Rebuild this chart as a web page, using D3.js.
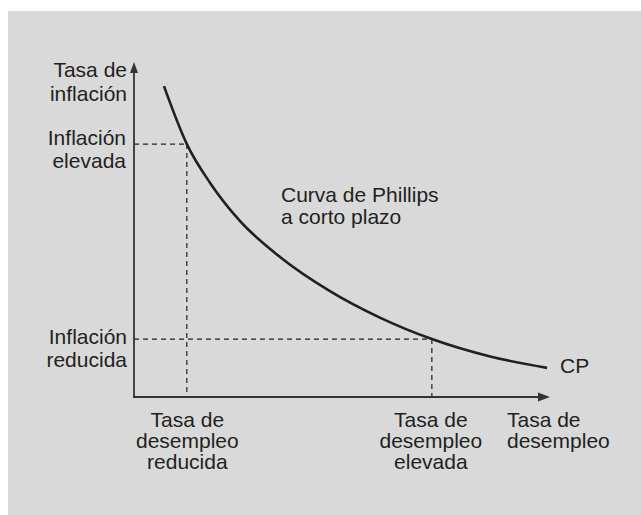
<!DOCTYPE html>
<html>
<head>
<meta charset="utf-8">
<script src="https://cdn.jsdelivr.net/npm/d3@7"></script>
<style>
  html, body { margin: 0; padding: 0; background: #ffffff; }
  svg { display: block; }
  text { font-family: "Liberation Sans", Arial, Helvetica, sans-serif; font-size: 21px; fill: #231f20; }
</style>
</head>
<body>
<svg id="chart" width="641" height="515"></svg>
<script>
// Short-run Phillips curve (arbitrary units 0..10)
const curveX = [0.72, 1.27, 1.83, 2.55, 3.51, 4.71, 5.91, 7.16, 8.56, 9.93];
const curveY = [9.28, 7.55, 6.39, 5.25, 4.18, 3.16, 2.37, 1.73, 1.21, 0.87];

// Marked combinations
const unemploymentMarks = [1.27, 7.16];   // low, high unemployment
const inflationMarks = [7.55, 1.73];      // high, low inflation

// Texts
const yTitle = ["Tasa de", "inflación"];
const xTitle = ["Tasa de", "desempleo"];
const inflationLabels = [["Inflación", "elevada"], ["Inflación", "reducida"]];
const unemploymentLabels = [["Tasa de", "desempleo", "reducida"], ["Tasa de", "desempleo", "elevada"]];
const curveLabel = ["Curva de Phillips", "a corto plazo"];
const curveName = "CP";

const svg = d3.select("#chart");
const W = 641, H = 515;

// panel
svg.append("rect").attr("x", 8).attr("y", 11).attr("width", W - 8).attr("height", H - 11)
  .attr("fill", "#d9d9d9");

const x = d3.scaleLinear().domain([0, 10]).range([134, 550]);
const y = d3.scaleLinear().domain([0, 10]).range([397, 62]);

const ink = "#231f20";

// dashed guide lines
const dash = "5,4";
inflationMarks.forEach((v, i) => {
  svg.append("line")
    .attr("x1", x(0)).attr("x2", x(unemploymentMarks[i]))
    .attr("y1", y(v)).attr("y2", y(v))
    .attr("stroke", ink).attr("stroke-width", 1.2).attr("stroke-dasharray", dash);
  svg.append("line")
    .attr("x1", x(unemploymentMarks[i])).attr("x2", x(unemploymentMarks[i]))
    .attr("y1", y(v)).attr("y2", y(0))
    .attr("stroke", ink).attr("stroke-width", 1.2).attr("stroke-dasharray", dash);
});

// axes with arrows
const axisColor = "#333333";
svg.append("line").attr("x1", x(0)).attr("x2", x(0)).attr("y1", y(0) + 1).attr("y2", y(10) + 8)
  .attr("stroke", axisColor).attr("stroke-width", 1.8);
svg.append("line").attr("x1", x(0) - 1).attr("x2", x(10) - 8).attr("y1", y(0)).attr("y2", y(0))
  .attr("stroke", axisColor).attr("stroke-width", 1.8);
svg.append("path")
  .attr("d", `M${x(0)},${y(10)} L${x(0) + 4},${y(10) + 11} L${x(0) - 4},${y(10) + 11} Z`)
  .attr("fill", axisColor);
svg.append("path")
  .attr("d", `M${x(10)},${y(0)} L${x(10) - 12},${y(0) + 4.5} L${x(10) - 12},${y(0) - 4.5} Z`)
  .attr("fill", axisColor);

// curve
const pts = curveX.map((v, i) => [v, curveY[i]]);
const line = d3.line().x(d => x(d[0])).y(d => y(d[1])).curve(d3.curveMonotoneX);
svg.append("path").datum(pts).attr("d", line)
  .attr("fill", "none").attr("stroke", ink).attr("stroke-width", 2.6).attr("stroke-linecap", "butt");

// multi-line text helper
function multi(lines, px, py, anchor, lh) {
  const t = svg.append("text").attr("text-anchor", anchor);
  lines.forEach((s, i) => {
    t.append("tspan").attr("x", px).attr("y", py + i * lh).text(s);
  });
  return t;
}

// y axis title
multi(yTitle, 127, 77, "end", 23.5);
// inflation labels
multi(inflationLabels[0], 126, 145, "end", 23.3);
multi(inflationLabels[1], 127, 343.5, "end", 23.3);

// unemployment labels
multi(unemploymentLabels[0], x(unemploymentMarks[0]) + 0.5, 427, "middle", 20.8);
multi(unemploymentLabels[1], x(unemploymentMarks[1]) - 1, 427, "middle", 20.8);
// x axis title
multi(xTitle, 507, 427, "start", 20.8);

// curve label
multi(curveLabel, 281, 202, "start", 21.5);
svg.append("text").attr("x", 560).attr("y", 373).text(curveName);
</script>
</body>
</html>
